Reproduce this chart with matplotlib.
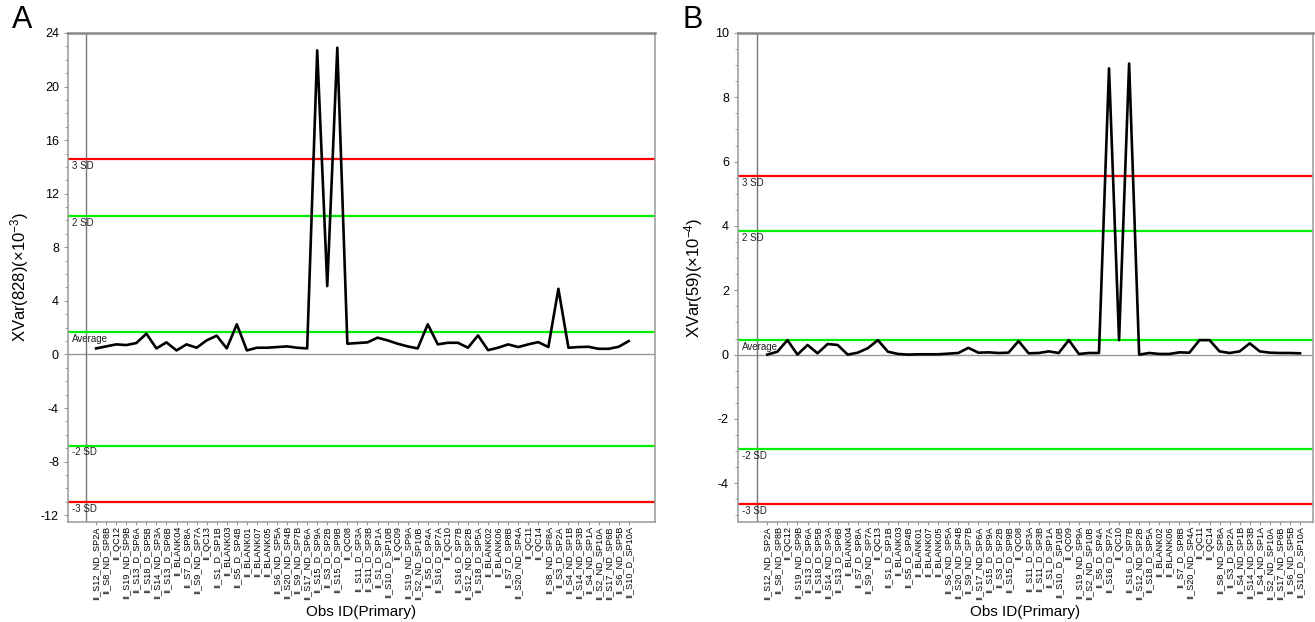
import numpy as np
import matplotlib.pyplot as plt
from matplotlib.ticker import MultipleLocator
import matplotlib.transforms as mtransforms

plt.rcParams['font.family'] = ['Liberation Sans', 'DejaVu Sans']
plt.rcParams['axes.unicode_minus'] = False
plt.rcParams['mathtext.default'] = 'regular'

obs_ids = ['II_S12_ND_SP2A', 'II_S8_ND_SP8B', 'II_QC12', 'II_S19_ND_SP9B', 'II_S13_D_SP6A',
           'II_S18_D_SP5B', 'II_S14_ND_SP3A', 'II_S13_D_SP6B', 'II_BLANK04', 'II_S7_D_SP8A',
           'II_S9_ND_SP7A', 'II_QC13', 'II_S1_D_SP1B', 'II_BLANK03', 'II_S5_D_SP4B',
           'II_BLANK01', 'II_BLANK07', 'II_BLANK05', 'II_S6_ND_SP5A', 'II_S20_ND_SP4B',
           'II_S9_ND_SP7B', 'II_S17_ND_SP6A', 'II_S15_D_SP9A', 'II_S3_D_SP2B', 'II_S15_D_SP9B',
           'II_QC08', 'II_S11_D_SP3A', 'II_S11_D_SP3B', 'II_S1_D_SP1A', 'II_S10_D_SP10B',
           'II_QC09', 'II_S19_ND_SP9A', 'II_S2_ND_SP10B', 'II_S5_D_SP4A', 'II_S16_D_SP7A',
           'II_QC10', 'II_S16_D_SP7B', 'II_S12_ND_SP2B', 'II_S18_D_SP5A', 'II_BLANK02',
           'II_BLANK06', 'II_S7_D_SP8B', 'II_S20_ND_SP4A', 'II_QC11', 'II_QC14',
           'II_S8_ND_SP8A', 'II_S3_D_SP2A', 'II_S4_ND_SP1B', 'II_S14_ND_SP3B', 'II_S4_ND_SP1A',
           'II_S2_ND_SP10A', 'II_S17_ND_SP6B', 'II_S6_ND_SP5B', 'II_S10_D_SP10A']

# panel A: XVar(828) x10^-3
xvar_a = [0.45, 0.6, 0.75, 0.7, 0.85, 1.55, 0.45, 0.9, 0.3, 0.75,
          0.5, 1.05, 1.4, 0.45, 2.25, 0.3, 0.5, 0.5, 0.55, 0.6,
          0.5, 0.45, 22.7, 5.1, 22.9, 0.8, 0.85, 0.9, 1.25, 1.05,
          0.8, 0.6, 0.45, 2.25, 0.75, 0.87, 0.87, 0.5, 1.42, 0.32,
          0.5, 0.75, 0.55, 0.75, 0.92, 0.55, 4.9, 0.5, 0.55, 0.57,
          0.42, 0.42, 0.57, 1.0]
limits_a = {'3 SD': 14.6, '2 SD': 10.3, 'Average': 1.7, '-2 SD': -6.8, '-3 SD': -11.0}

# panel B: XVar(59) x10^-4
xvar_b = [0.0, 0.09, 0.45, 0.0, 0.3, 0.04, 0.33, 0.3, 0.0, 0.06,
          0.2, 0.45, 0.09, 0.02, 0.0, 0.01, 0.01, 0.01, 0.03, 0.05,
          0.21, 0.06, 0.07, 0.05, 0.06, 0.42, 0.04, 0.05, 0.1, 0.05,
          0.45, 0.02, 0.05, 0.05, 8.9, 0.45, 9.05, 0.0, 0.05, 0.02,
          0.02, 0.07, 0.06, 0.45, 0.45, 0.1, 0.05, 0.1, 0.35, 0.1,
          0.06, 0.05, 0.05, 0.04]
limits_b = {'3 SD': 5.55, '2 SD': 3.85, 'Average': 0.45, '-2 SD': -2.95, '-3 SD': -4.65}

line_colors = {'3 SD': '#ff0000', '2 SD': '#00ee00', 'Average': '#00ee00',
               '-2 SD': '#00ee00', '-3 SD': '#ff0000'}

fig = plt.figure(figsize=(13.15, 6.22), dpi=100)
ax_a = fig.add_axes([0.0517, 0.161, 0.4463, 0.786])
ax_b = fig.add_axes([0.5612, 0.161, 0.4373, 0.786])


def draw_panel(ax, vals, limits, ylim, xlim, major, minor, ylabel):
    x = np.arange(1, len(vals) + 1)
    ax.axhline(0, color='#999999', lw=1.0, zorder=1)
    ax.axvline(0, color='#777777', lw=1.0, zorder=1)
    trans = mtransforms.blended_transform_factory(ax.transAxes, ax.transData)
    for name, v in limits.items():
        ax.axhline(v, color=line_colors[name], lw=1.6, zorder=2)
        ax.text(0.007, v - 0.004 * (ylim[1] - ylim[0]), name, transform=trans,
                fontsize=7, va='top', ha='left', color='#222222')
    ax.plot(x, vals, color='black', lw=1.9, zorder=3)
    ax.set_xlim(*xlim)
    ax.set_ylim(*ylim)
    ax.yaxis.set_major_locator(MultipleLocator(major))
    ax.yaxis.set_minor_locator(MultipleLocator(minor))
    ax.set_xticks(x)
    ax.set_xticklabels(obs_ids, rotation=90, fontsize=6.6)
    ax.tick_params(axis='x', length=2, pad=1, color='#999999')
    ax.tick_params(axis='y', which='major', length=3, labelsize=9, color='#999999')
    ax.tick_params(axis='y', which='minor', length=2, color='#999999')
    for s in ax.spines.values():
        s.set_color('#999999')
        s.set_linewidth(1.1)
    ax.spines['top'].set_color('#888888')
    ax.spines['top'].set_linewidth(1.8)
    ax.set_ylabel(ylabel, fontsize=12, labelpad=7)
    ax.set_xlabel('Obs ID(Primary)', fontsize=11, labelpad=4)


draw_panel(ax_a, xvar_a, limits_a, (-12.5, 24), (-1.8, 56.6), 4, 1,
           r'XVar(828)(×10$^{-3}$)')
draw_panel(ax_b, xvar_b, limits_b, (-5.2, 10), (-1.92, 55.3), 2, 0.5,
           r'XVar(59)(×10$^{-4}$)')

fig.text(0.009, 0.955, 'A', fontsize=22)
fig.text(0.519, 0.955, 'B', fontsize=22)

fig.savefig('out.png', dpi=100)
